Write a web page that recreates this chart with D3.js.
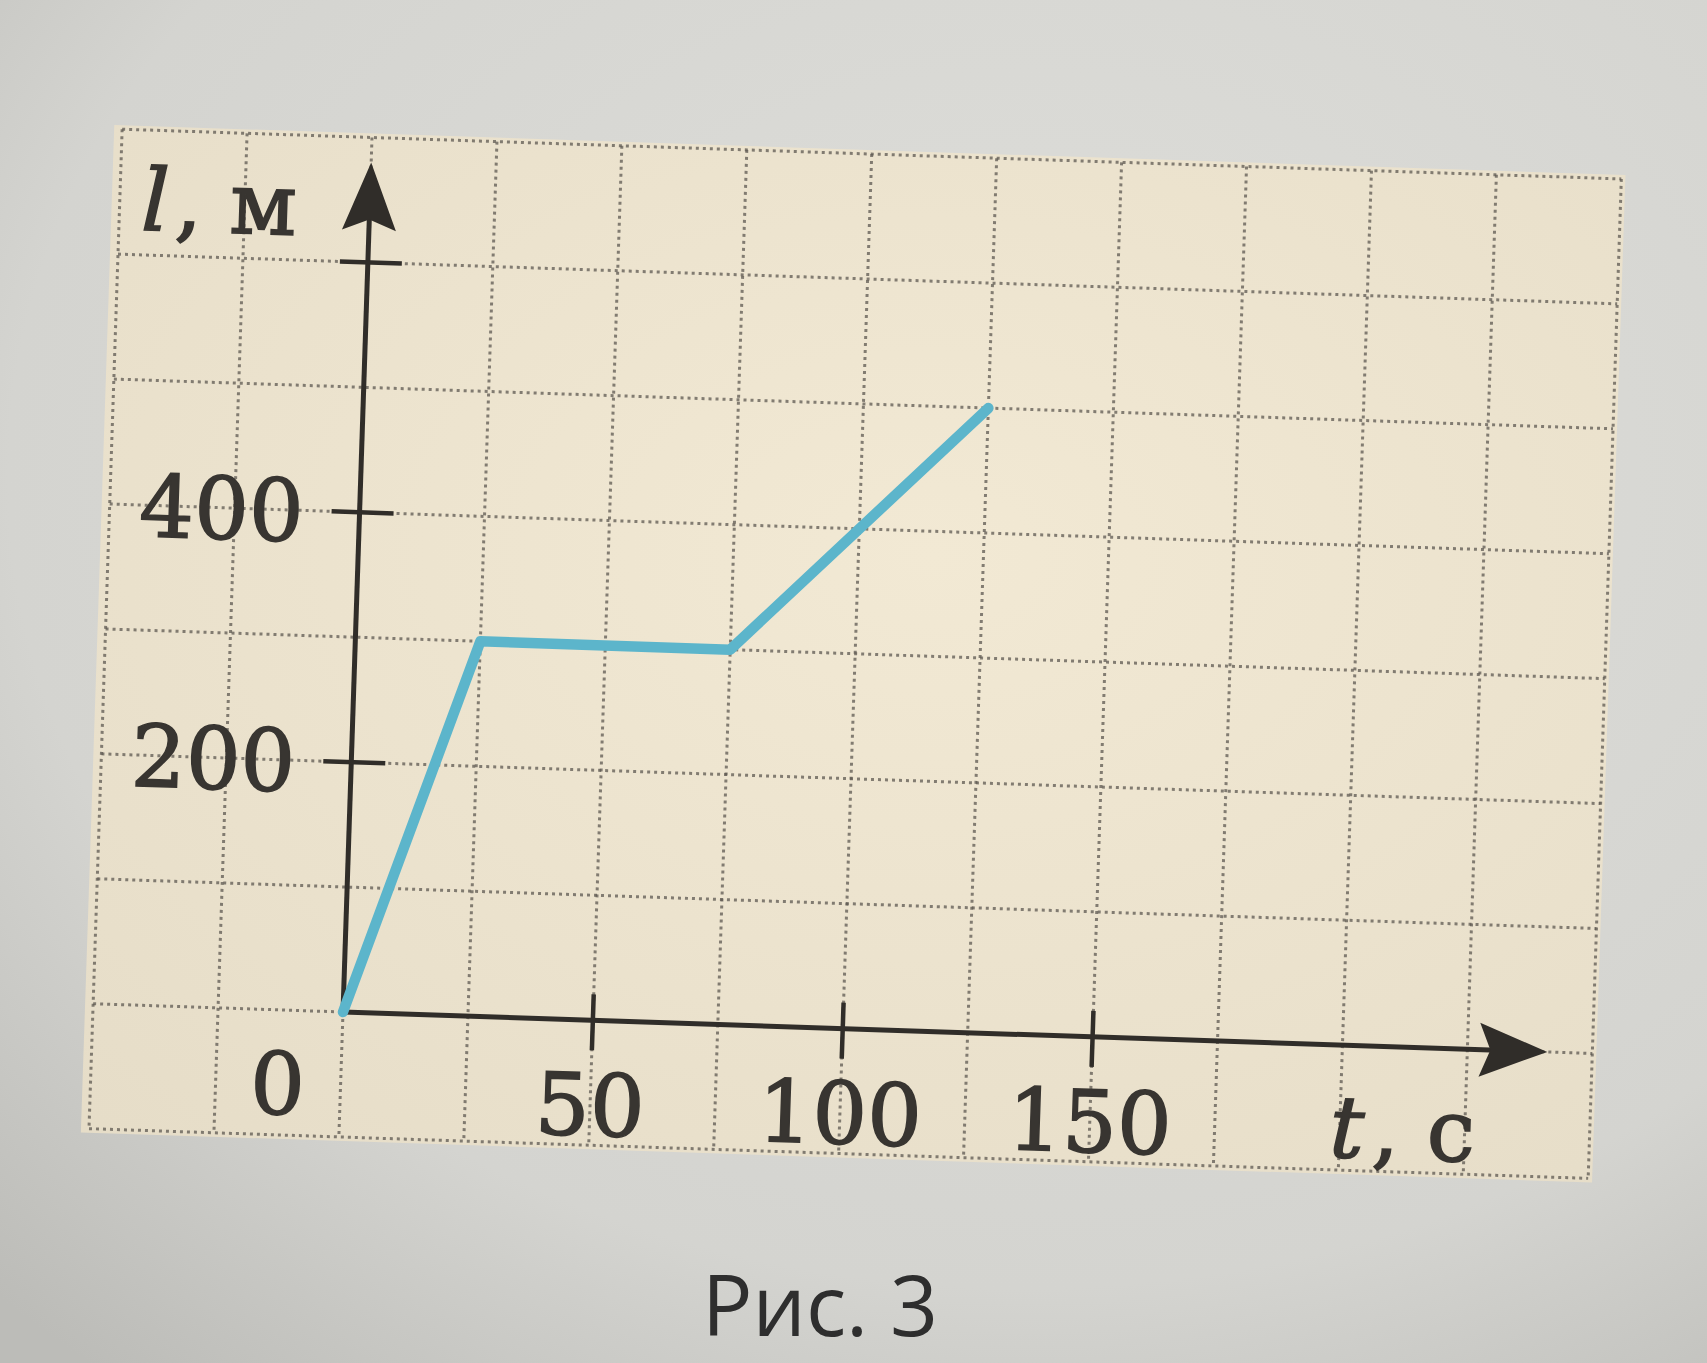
<!DOCTYPE html>
<html>
<head>
<meta charset="utf-8">
<script src="https://cdn.jsdelivr.net/npm/d3@7"></script>
<style>
  html, body { margin: 0; padding: 0; background: #d4d4d0; }
  svg { display: block; }
</style>
</head>
<body>
<script>
// ---- data ----
const tValues = [0, 25, 75, 125];        // t, с
const lValues = [0, 300, 300, 500];      // l, м
const xTicks = [50, 100, 150];
const xTickLabels = ["50", "100", "150"];
const yTicks = [200, 400, 600];
const yTickLabels = ["200", "400", ""];
const xGrid = d3.range(-50, 251, 25);
const yGrid = d3.range(-100, 701, 100);
const xAxisLabel = ["t", ", с"];
const yAxisLabel = ["l", ", м"];
const caption = "Рис. 3";

// ---- layout ----
const W = 1707, H = 1363;
const origin = [343, 1012];
const tilt = 1.9;

const svg = d3.select("body").append("svg").attr("width", W).attr("height", H);
const defs = svg.append("defs");
const bg = defs.append("radialGradient").attr("id", "vig")
  .attr("cx", "0.6").attr("cy", "0.35").attr("r", "0.85");
bg.append("stop").attr("offset", "0").attr("stop-color", "#dededa");
bg.append("stop").attr("offset", "0.7").attr("stop-color", "#d4d4d0");
bg.append("stop").attr("offset", "1").attr("stop-color", "#bcbcb8");
svg.append("rect").attr("width", W).attr("height", H).attr("fill", "url(#vig)");

const paperG = defs.append("radialGradient").attr("id", "paper")
  .attr("cx", "0.55").attr("cy", "0.4").attr("r", "0.8");
paperG.append("stop").attr("offset", "0").attr("stop-color", "#f2e9d4");
paperG.append("stop").attr("offset", "1").attr("stop-color", "#e6ddc8");

const x = d3.scaleLinear().domain([0, 250]).range([0, 1250]);
const y = d3.scaleLinear().domain([0, 700]).range([0, -875]);

const g = svg.append("g")
  .attr("transform", `translate(${origin[0]},${origin[1]}) rotate(${tilt})`);

// paper area
g.append("rect")
  .attr("x", x(-50) - 8).attr("y", y(700) - 4)
  .attr("width", x(250) - x(-50) + 12).attr("height", y(-100) - y(700) + 8)
  .attr("fill", "url(#paper)");

// dotted grid
const gridColor = "#5e5952";
g.append("g").selectAll("line").data(xGrid).join("line")
  .attr("x1", d => x(d)).attr("x2", d => x(d))
  .attr("y1", y(700)).attr("y2", y(-100))
  .attr("stroke", gridColor).attr("stroke-width", 3)
  .attr("stroke-dasharray", "3,4").attr("opacity", 0.75);
g.append("g").selectAll("line").data(yGrid).join("line")
  .attr("y1", d => y(d)).attr("y2", d => y(d))
  .attr("x1", x(-50)).attr("x2", x(250))
  .attr("stroke", gridColor).attr("stroke-width", 3)
  .attr("stroke-dasharray", "3,4").attr("opacity", 0.75);

// axes
const axisColor = "#302d29";
const xAxisEnd = x(241), yAxisEnd = y(680);
g.append("line").attr("x1", 0).attr("y1", 0).attr("x2", xAxisEnd - 50).attr("y2", 0)
  .attr("stroke", axisColor).attr("stroke-width", 5);
g.append("line").attr("x1", 0).attr("y1", 0).attr("x2", 0).attr("y2", yAxisEnd + 50)
  .attr("stroke", axisColor).attr("stroke-width", 5);
// arrowheads
g.append("path")
  .attr("d", `M${xAxisEnd},0 L${xAxisEnd - 68},-27 L${xAxisEnd - 57},0 L${xAxisEnd - 68},27 Z`)
  .attr("fill", axisColor);
g.append("path")
  .attr("d", `M0,${yAxisEnd} L-27,${yAxisEnd + 68} L0,${yAxisEnd + 57} L27,${yAxisEnd + 68} Z`)
  .attr("fill", axisColor);

// ticks
g.append("g").selectAll("line").data(xTicks).join("line")
  .attr("x1", d => x(d)).attr("x2", d => x(d)).attr("y1", -26).attr("y2", 30)
  .attr("stroke", axisColor).attr("stroke-width", 4.5);
g.append("g").selectAll("line").data(yTicks).join("line")
  .attr("y1", d => y(d)).attr("y2", d => y(d)).attr("x1", -28).attr("x2", 34)
  .attr("stroke", axisColor).attr("stroke-width", 4.5);

// tick labels
const labelFont = "'DejaVu Serif', 'Liberation Serif', serif";
const textColor = "#383531";
function styleLabel(sel) {
  sel.attr("font-family", labelFont).attr("font-size", 86)
    .attr("fill", textColor).attr("stroke", textColor).attr("stroke-width", 1.6);
}
g.append("g").selectAll("text").data(xTicks).join("text")
  .attr("x", d => x(d)).attr("y", 115)
  .attr("text-anchor", "middle")
  .call(styleLabel)
  .text((d, i) => xTickLabels[i]);
g.append("g").selectAll("text").data(yTicks).join("text")
  .attr("x", -56).attr("y", d => y(d) + 31)
  .attr("text-anchor", "end")
  .call(styleLabel)
  .text((d, i) => yTickLabels[i]);
g.append("text").attr("x", -63).attr("y", 104)
  .attr("text-anchor", "middle")
  .call(styleLabel).text("0");

// axis labels
const xl = g.append("text").attr("x", x(198)).attr("y", 112).call(styleLabel);
xl.append("tspan").attr("font-style", "italic").text(xAxisLabel[0]);
xl.append("tspan").attr("dx", 8).text(xAxisLabel[1]);
const yl = g.append("text").attr("x", -228).attr("y", y(620)).call(styleLabel);
yl.append("tspan").attr("font-style", "italic").text(yAxisLabel[0]);
yl.append("tspan").attr("dx", 6).text(yAxisLabel[1]);

// data line
const line = d3.line().x(d => x(d[0])).y(d => y(d[1]));
g.append("path")
  .datum(tValues.map((t, i) => [t, lValues[i]]))
  .attr("d", line)
  .attr("fill", "none")
  .attr("stroke", "#5cb5cb")
  .attr("stroke-width", 10.5)
  .attr("stroke-linejoin", "round")
  .attr("stroke-linecap", "round");

// caption
svg.append("text").attr("x", 820).attr("y", 1336)
  .attr("text-anchor", "middle")
  .attr("font-family", "'Open Sans', 'Noto Sans', sans-serif")
  .attr("font-size", 84).attr("fill", "#2e2e2e")
  .text(caption);
</script>
</body>
</html>
